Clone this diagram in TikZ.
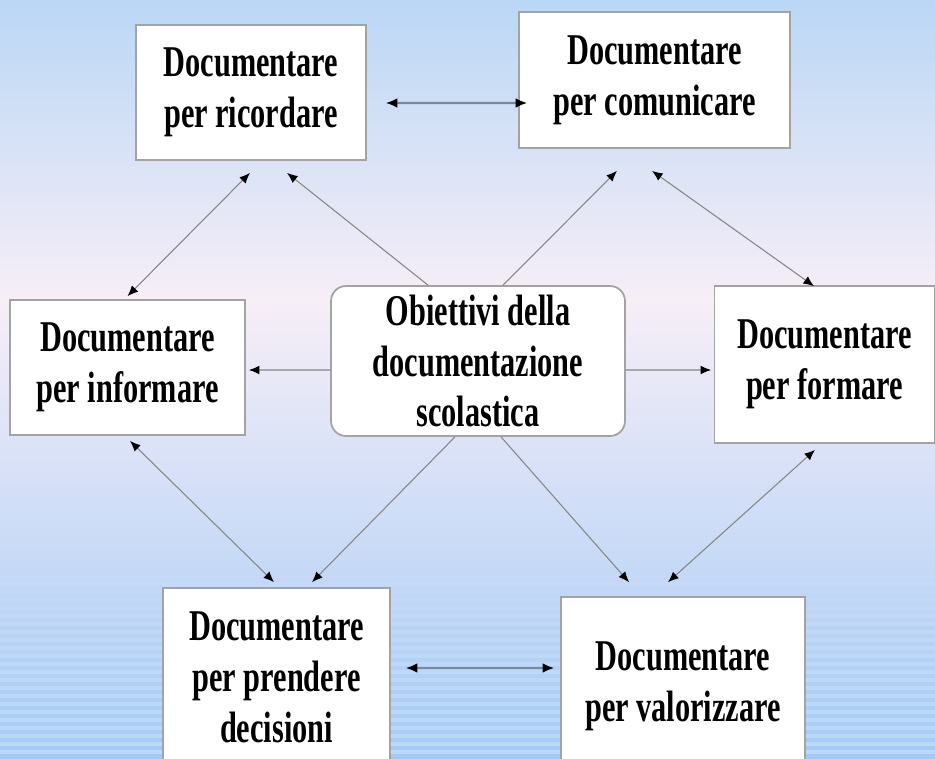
\documentclass[tikz,border=0pt]{standalone}
\usepackage{fontspec}
\setmainfont{Liberation Serif}[FakeStretch=0.69]
\usetikzlibrary{arrows.meta,calc}

\definecolor{skytop}{HTML}{BAD7F5}
\definecolor{skypink}{HTML}{F7EEF7}
\definecolor{skybottom}{HTML}{A2CAF6}
\definecolor{boxline}{HTML}{A3A3A3}
\definecolor{thinline}{HTML}{858585}
\definecolor{thickline}{HTML}{7A8999}

\begin{document}
\begin{tikzpicture}[x=0.02cm, y=-0.02cm,
                    every node/.style={font=\fontsize{25}{29}\selectfont\bfseries, align=center},
                    goal/.style={rectangle, draw=boxline, line width=1pt, fill=white, inner sep=0pt},
                    hub/.style={goal, rounded corners=0.3cm},
                    link/.style={thinline, line width=0.6pt, -{Latex[length=6pt,width=5pt,color=black]}},
                    twoway/.style={link, {Latex[length=6pt,width=5pt,color=black]}-{Latex[length=6pt,width=5pt,color=black]}},
                    bigway/.style={thickline, line width=1.2pt, {Latex[length=6.5pt,width=5.5pt,color=black]}-{Latex[length=6.5pt,width=5.5pt,color=black]}}]
  \useasboundingbox (0,0) rectangle (935,758);
  \clip (0,0) rectangle (935,758);
  % background
  \shade[top color=skytop, bottom color=skypink] (0,0) rectangle (935,301);
  \shade[top color=skypink, bottom color=skybottom] (0,300) rectangle (935,758);
  \foreach \y [evaluate=\y as \op using (\y-560)/200*0.28] in {568,576,...,758}
    \draw[white, opacity=\op, line width=2.5pt] (0,\y) -- (935,\y);

  % boxes
  \node[goal, minimum width=4.6cm, minimum height=2.7cm](ric) at (251,92.5) {Documentare\\per ricordare};
  \node[goal, minimum width=5.42cm, minimum height=2.72cm](com) at (654.5,80) {Documentare\\per comunicare};
  \node[goal, minimum width=4.7cm, minimum height=2.7cm](inf) at (127.5,367.5) {Documentare\\per informare};
  \node[hub, minimum width=5.88cm, minimum height=3.0cm](cen) at (478,361) {Obiettivi della\\documentazione\\scolastica};
  \node[goal, minimum width=4.4cm, minimum height=3.14cm](frm) at (824.5,364.5) {Documentare\\per formare};
  \node[goal, minimum width=4.54cm, minimum height=3.56cm](dec) at (276.5,677) {Documentare\\per prendere\\decisioni};
  \node[goal, minimum width=4.88cm, minimum height=3.56cm](val) at (683,686) {Documentare\\per valorizzare};

  % links from the centre
  \draw[link] ($(cen.north)+(-50,0)$) -- ($(ric.south)+(36,12)$);
  \draw[link] ($(cen.north)+(25,0)$) -- ($(com.south)+(-37.5,22)$);
  \draw[link] ($(cen.west)+(0,9)$) -- ($(inf.east)+(3,2.5)$);
  \draw[link] ($(cen.east)+(0,9)$) -- ($(frm.west)+(-2.5,5.5)$);
  \draw[link] ($(cen.south)+(-23,0)$) -- ($(dec.north)+(35.5,-5)$);
  \draw[link] ($(cen.south)+(23,0)$) -- ($(val.north)+(-54,-14)$);

  % links round the ring
  \draw[bigway] ($(ric.east)+(19,10.5)$) -- ($(com.west)+(9,23)$);
  \draw[twoway] ($(ric.south)+(-1,12)$) -- ($(inf.north)+(0,-3)$);
  \draw[twoway] ($(com.south)+(-2.5,22)$) -- ($(frm.north)+(-10.5,1)$);
  \draw[twoway] ($(inf.south)+(2.5,5)$) -- ($(dec.north)+(-2.5,-5)$);
  \draw[twoway] ($(frm.south)+(-9.5,6)$) -- ($(val.north)+(-15,-14)$);
  \draw[bigway] ($(dec.east)+(15,-9)$) -- ($(val.west)+(-6,-18)$);
\end{tikzpicture}
\end{document}
